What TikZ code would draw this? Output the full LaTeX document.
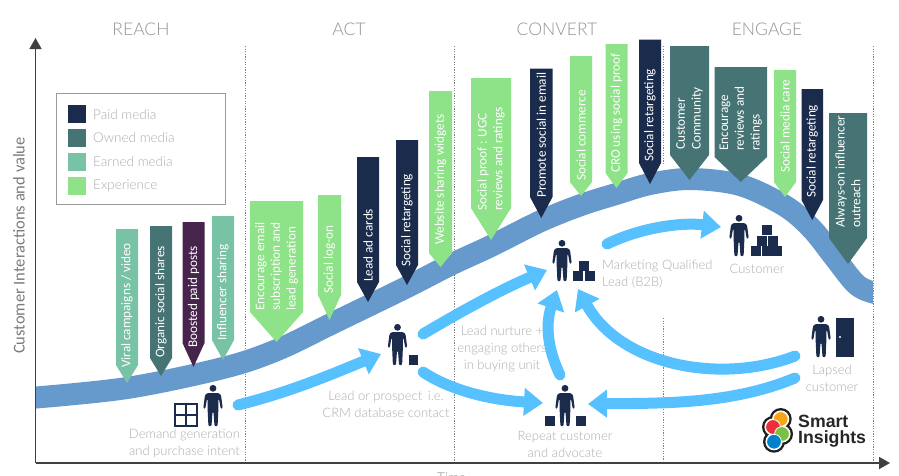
\documentclass[tikz,border=0pt]{standalone}
\usepackage{fontspec}
\setmainfont{Carlito}
\newfontfamily\lightfont{Lato Light}
\newfontfamily\logofont{Liberation Sans}[BoldFont={Liberation Sans Bold}]
\usetikzlibrary{arrows.meta}
\definecolor{paid}{HTML}{1A2B4C}
\definecolor{owned}{HTML}{467474}
\definecolor{earned}{HTML}{78C2A6}
\definecolor{exper}{HTML}{8EE287}
\definecolor{boost}{HTML}{46244C}
\definecolor{curveblue}{HTML}{6699CC}
\definecolor{flow}{HTML}{57C1FF}
\definecolor{axisgrey}{HTML}{404040}
\tikzset{
  x=1pt,y=-1pt,
  bannertext/.style={rotate=90,anchor=west,align=left,inner sep=0pt,text=white,font=\fontsize{13.2}{15.7}\selectfont},
  stagehead/.style={anchor=center,inner sep=0pt,text=black!42,font=\lightfont\fontsize{17.5}{20}\selectfont},
  legendtext/.style={anchor=west,inner sep=0pt,text=black!32,font=\lightfont\fontsize{13.5}{15}\selectfont},
  stagelabel/.style={inner sep=0pt,align=center,text=black!32,font=\lightfont\fontsize{13}{17}\selectfont},
  axisline/.style={draw=axisgrey,line width=1.5pt},
  axisarrow/.style={-{Triangle[length=11pt,width=12pt]},axisline},
  stagerule/.style={draw=black!50,line width=0.6pt,dash pattern=on 1.2pt off 1.4pt},
  flowarrow/.style={draw=flow,line width=11pt,line cap=round,-{Triangle[length=19pt,width=27pt]}},
  person/.pic={
    \fill[paid] (0,-37.7) circle (3.4);
    \fill[paid,rounded corners=1pt] (0,-33) -- (5.5,-33) -- (8,-31) -- (9.7,-18) -- (7.8,-17) -- (6,-27) -- (5.5,-27) -- (5.3,-15) -- (4.6,0) -- (1.5,0) -- (0.5,-14) -- (-0.5,-14) -- (-1.5,0) -- (-4.6,0) -- (-5.3,-15) -- (-5.5,-27) -- (-6,-27) -- (-7.8,-17) -- (-9.7,-18) -- (-8,-31) -- (-5.5,-33) -- cycle;
  }
}
% name, x1, x2, top, shoulder, tip, colour, text base, text
\newcommand{\banner}[9]{%
  \fill[#7] (#2,#4) -- (#3,#4) -- (#3,#5) -- ({(#2+#3)/2},#6) -- (#2,#5) -- cycle;
  \node[bannertext] (#1) at ({(#2+#3)/2},#8) {#9};
}
\newcommand{\crate}[3]{\fill[paid] (#1,#2) rectangle ++(#3,-#3);}
\begin{document}
\begin{tikzpicture}
\useasboundingbox (0,0) rectangle (899,475);
\fill[white] (0,0) rectangle (899,475);

% stage separators
\draw[stagerule] (245,46) -- (245,461);
\draw[stagerule] (454,46) -- (454,461);
\draw[stagerule] (663,46) -- (663,165);
\draw[stagerule] (663,318) -- (663,461);
\draw[stagerule] (873,46) -- (873,461);

% stage headings
\node[stagehead] (reach) at (141,29) {REACH};
\node[stagehead] (act) at (349,29) {ACT};
\node[stagehead] (convert) at (557,29) {CONVERT};
\node[stagehead] (engage) at (767,29) {ENGAGE};

% axes
\coordinate (origin) at (35.5,463);
\coordinate (ytop) at (35.5,38);
\coordinate (xend) at (890,463);
\draw[axisarrow] (origin) -- (ytop);
\draw[axisarrow] (origin) -- (xend);
\node[rotate=90,inner sep=0pt,text=black!52,font=\fontsize{16.5}{17}\selectfont] (ylabel) at (19,245.5) {Customer Interactions and value};
\node[anchor=north west,inner sep=0pt,text=black!45,font=\lightfont\fontsize{13.5}{15}\selectfont] (xlabel) at (437,472.5) {Time};

% value curve
\begin{scope}
\clip (36,150) rectangle (873,420);
\draw[curveblue,line width=22pt] plot[smooth,tension=0.55] coordinates {(30,398) (127,388) (223,368) (277,350) (333,323) (407,287) (450,265) (491,246) (541,221) (581,205) (616,194) (650,184) (690,179) (740,185) (785,206) (812,229) (835,258) (856,284) (873,292.5) (890,294)};
\end{scope}

% legend
\draw[black!40,line width=0.8pt] (56,93) rectangle (225.5,204);
\fill[paid] (68,105) rectangle (86,123);
\fill[owned] (68,129) rectangle (86,147);
\fill[earned] (68,153) rectangle (86,171);
\fill[exper] (68,177) rectangle (86,195);
\node[legendtext] (lpaid) at (93,115) {Paid media};
\node[legendtext] (lowned) at (93,138) {Owned media};
\node[legendtext] (learned) at (93,162) {Earned media};
\node[legendtext] (lexper) at (93,186) {Experience};

% banners
\banner{b1}{116}{138}{229}{365}{383}{earned}{368}{Viral campaigns / video}
\banner{b2}{150}{172}{226}{358}{376}{owned}{358}{Organic social shares}
\banner{b3}{182.5}{204.5}{222}{343}{367}{boost}{348}{Boosted paid posts}
\banner{b4}{212}{234}{216}{340}{360}{earned}{341}{Influencer sharing}
\banner{b5}{250}{303}{201}{312}{342}{exper}{311}{Encourage email\\subscription and\\lead generation}
\banner{b6}{318}{341}{195}{295}{320}{exper}{294}{Social log-on}
\banner{b7}{357}{379}{157}{282}{302}{paid}{282}{Lead ad cards}
\banner{b8}{396}{418}{140}{265}{285}{paid}{267}{Social retargeting}
\banner{b9}{429}{452}{91}{253}{267}{exper}{245}{Website sharing widgets}
\banner{b10}{471}{511}{78}{208}{240}{exper}{211}{Social proof : UGC\\reviews and ratings}
\banner{b11}{530}{552.5}{68.5}{197}{218}{paid}{198}{Promote social in email}
\banner{b12}{570}{592}{56}{182}{196}{exper}{181}{Social commerce}
\banner{b13}{605.5}{627.5}{44}{173}{188}{exper}{173}{CRO using social proof}
\banner{b14}{639}{661}{39.5}{163}{184}{paid}{162}{Social retargeting}
\banner{b15}{670}{709}{46}{155}{180}{owned}{150}{Customer\\Community}
\banner{b16}{714.5}{767}{67}{157}{182}{owned}{151}{Encourage\\reviews and\\ratings}
\banner{b17}{774}{796}{70}{182}{197}{exper}{173}{Social media care}
\banner{b18}{801.5}{823}{89}{200}{220}{paid}{198}{Social retargeting}
\banner{b19}{829}{867}{113}{238}{264}{owned}{228}{Always-on influencer\\outreach}

% connector ends
\coordinate (demandout) at (238,405);
\coordinate (leadin) at (381,354);
\coordinate (leadup) at (423,334);
\coordinate (mqlleft) at (547,270);
\coordinate (leaddown) at (423,372);
\coordinate (repeatleft) at (543,403);
\coordinate (repeatup) at (560,375);
\coordinate (mqlbelow) at (557,290);
\coordinate (lapsedup) at (795,356);
\coordinate (mqlright) at (578,289);
\coordinate (lapseddown) at (795,378);
\coordinate (repeatright) at (588,404);
\coordinate (mqlout) at (607,244);
\coordinate (custin) at (721,227);

% flows
\draw[flowarrow] (demandout) .. controls (290,392) and (330,375) .. (leadin);
\draw[flowarrow] (leadup) .. controls (460,312) and (500,290) .. (mqlleft);
\draw[flowarrow] (leaddown) .. controls (450,390) and (490,400) .. (repeatleft);
\draw[flowarrow] (repeatup) .. controls (548,350) and (545,325) .. (mqlbelow);
\draw[flowarrow] (lapsedup) .. controls (720,385) and (620,365) .. (mqlright);
\draw[flowarrow] (lapseddown) .. controls (730,405) and (660,403) .. (repeatright);
\draw[flowarrow] (mqlout) .. controls (640,228) and (680,222) .. (custin);

% people and props
\pic at (213,426) {person};
\draw[paid,line width=1.6pt] (175,404) rectangle (197,426) (186,404) -- (186,426) (175,415) -- (197,415);
\pic at (397.5,365) {person};
\crate{408.5}{365}{9.7}
\pic at (562,281) {person};
\crate{579}{270.5}{10}
\crate{573.3}{281}{10}
\crate{584.6}{281}{10}
\pic at (739,256) {person};
\crate{762}{235}{10}
\crate{757}{245.5}{10}
\crate{767.5}{245.5}{10}
\crate{751}{256}{10}
\crate{761.7}{256}{10}
\crate{772.4}{256}{10}
\pic at (821,357) {person};
\fill[paid] (836,318) rectangle (854,357);
\fill[white] (840,337) circle (1.1);
\pic at (565,426) {person};
\crate{545}{426}{10}
\crate{575.5}{426}{10}

% stage labels
\node[stagelabel] (ldemand) at (184.5,443.5) {Demand generation\\and purchase intent};
\node[stagelabel] (llead) at (386,404.5) {Lead or prospect\, i.e.\\CRM database contact};
\node[stagelabel,align=left,anchor=west] (lmql) at (602,274.5) {Marketing Qualified\\Lead (B2B)};
\node[stagelabel] (lcust) at (757,269) {Customer};
\node[stagelabel] (lnurture) at (502,349) {Lead nurture +\\engaging others\\in buying unit};
\node[stagelabel] (llapsed) at (832,378.5) {Lapsed\\customer};
\node[stagelabel] (lrepeat) at (565,444.5) {Repeat customer\\and advocate};

% logo
\definecolor{logoO}{HTML}{F9A51A}
\definecolor{logoR}{HTML}{EE2E3B}
\definecolor{logoG}{HTML}{7AC143}
\definecolor{logoB}{HTML}{0082CA}
\fill[black!88] (780.7,419) circle (11) (773,427) circle (11) (782,434) circle (11) (774,441.7) circle (11);
\fill[white] (780.7,419) circle (8.6) (773,427) circle (8.6) (782,434) circle (8.6) (774,441.7) circle (8.6);
\fill[logoO,draw=white,line width=0.8pt] (780.7,419) circle (7.4);
\fill[logoR,draw=white,line width=0.8pt] (773,427) circle (7.4);
\fill[logoG,draw=white,line width=0.8pt] (782,434) circle (7.4);
\fill[logoB,draw=white,line width=0.8pt] (774,441.7) circle (7.4);
\node[anchor=west,inner sep=0pt,align=left,text=black!85,font=\logofont\bfseries\fontsize{17.7}{16}\selectfont] (logo) at (798,431) {Smart\\Insights};
\end{tikzpicture}
\end{document}
